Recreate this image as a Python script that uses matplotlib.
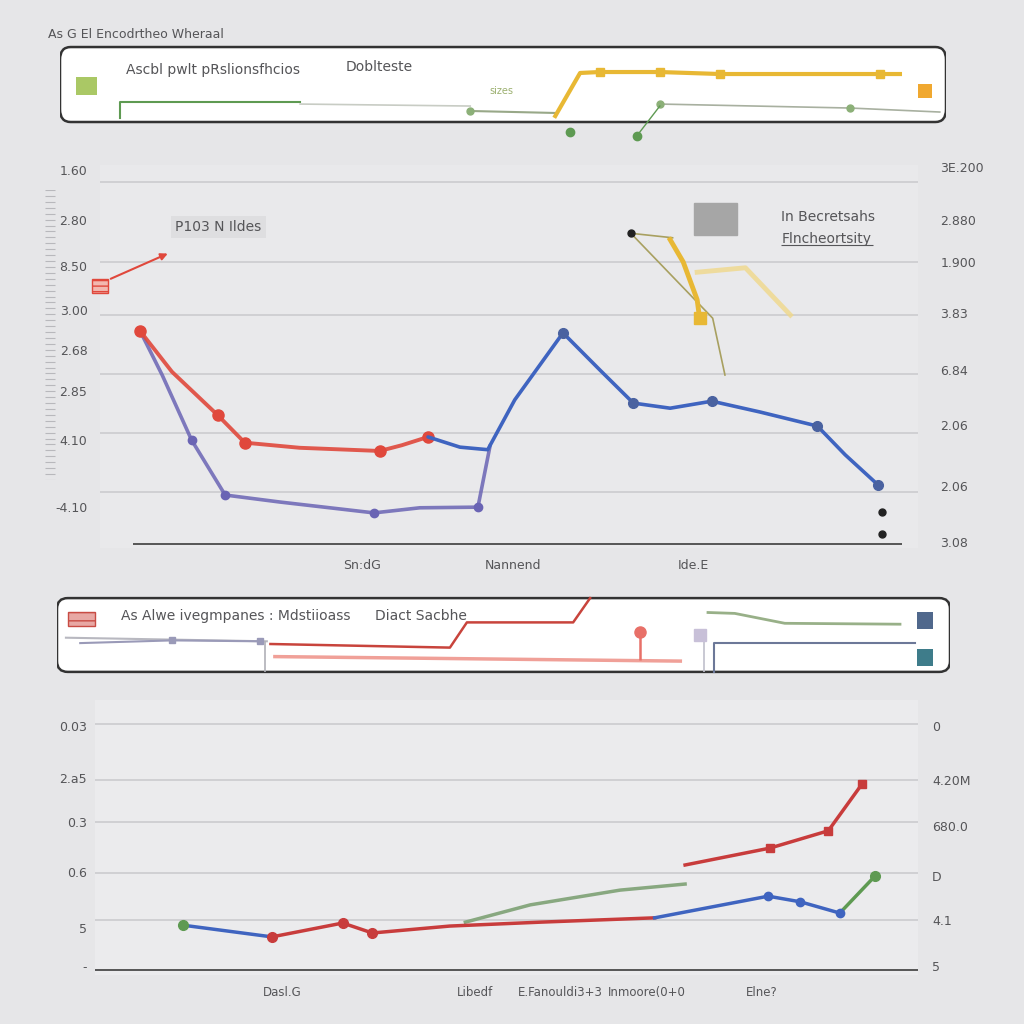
import numpy as np
import matplotlib
matplotlib.use("Agg")
import matplotlib.pyplot as plt
from matplotlib.patches import FancyBboxPatch, Rectangle

# ---- data: main chart (upper) ----
red_x = [4.9, 8.8, 14.4, 17.7, 24.4, 34.2, 36.9, 40.1]
red_y = [3.40, 2.76, 2.08, 1.65, 1.57, 1.52, 1.61, 1.74]
blue_x = [40.1, 44.0, 47.4, 50.7, 56.6, 61.1, 65.2, 69.7, 74.8, 80.7, 87.7, 91.1, 95.1]
blue_y = [1.74, 1.58, 1.54, 2.32, 3.37, 2.79, 2.27, 2.19, 2.30, 2.13, 1.91, 1.46, 0.99]
purple_x = [4.9, 7.6, 11.2, 15.3, 22.0, 33.5, 39.1, 46.2, 47.7]
purple_y = [3.40, 2.71, 1.69, 0.83, 0.72, 0.55, 0.63, 0.64, 1.61]
yellow_x = [69.7, 71.3, 73.0, 73.3]
yellow_y = [4.83, 4.48, 3.89, 3.60]
pale_x = [73.0, 78.9, 84.4]
pale_y = [4.32, 4.39, 3.65]
olive_x = [70.0, 64.9, 74.9, 76.4]
olive_y = [4.86, 4.93, 3.60, 2.71]
dots_x = [64.9, 95.6, 95.6]
dots_y = [4.93, 0.56, 0.22]
grid1 = [5.73, 4.48, 3.65, 2.73, 1.80, 0.88]
left1_pos = [5.92, 5.14, 4.42, 3.73, 3.10, 2.46, 1.69, 0.64]
left1_lab = ["1.60", "2.80", "8.50", "3.00", "2.68", "2.85", "4.10", "-4.10"]
right1_pos = [5.97, 5.14, 4.48, 3.68, 2.79, 1.93, 0.97, 0.09]
right1_lab = ["3E.200", "2.880", "1.900", "3.83", "6.84", "2.06", "2.06", "3.08"]
x1_pos = [32.0, 50.5, 72.5]
x1_lab = ["Sn:dG", "Nannend", "Ide.E"]

# ---- data: top panel ----
p1_green_x = [6.8, 6.8, 27.1]
p1_green_y = [2.57, 4.10, 4.10]
p1_gray_x = [27.1, 46.3]
p1_gray_y = [3.90, 3.71]
p1_olive_x = [46.3, 55.9]
p1_olive_y = [3.24, 3.05]
p1_yellow_x = [55.9, 58.7, 60.9, 67.7, 74.5, 92.6, 94.8]
p1_yellow_y = [2.76, 6.86, 6.95, 6.95, 6.76, 6.76, 6.76]
p1_thin_x = [67.7, 89.2, 99.3]
p1_thin_y = [3.90, 3.52, 3.14]
p1_drop_x = [65.1, 67.7]
p1_drop_y = [0.86, 3.71]
p1_dot_x = [57.6, 65.1]
p1_dot_y = [1.24, 0.86]

# ---- data: second panel ----
p2_gray_x = [1.0, 23.5]
p2_gray_y = [4.7, 4.3]
p2_purple_x = [2.6, 12.9, 22.7]
p2_purple_y = [4.1, 4.4, 4.3]
p2_red_x = [23.9, 44.0, 45.9, 57.8, 59.7]
p2_red_y = [4.0, 3.6, 6.4, 6.4, 9.1]
p2_pink_x = [24.4, 69.8]
p2_pink_y = [2.6, 2.1]
p2_green_x = [72.9, 75.9, 81.5, 94.4]
p2_green_y = [7.5, 7.4, 6.3, 6.2]
p2_steel_x = [73.6, 73.6, 96.1]
p2_steel_y = [0.9, 4.1, 4.1]

# ---- data: bottom chart ----
b_blue1_x = [10.7, 21.5]
b_blue1_y = [1.15, 0.88]
b_red1_x = [21.5, 30.1, 33.7, 43.1, 54.1, 68.0]
b_red1_y = [0.88, 1.20, 0.97, 1.13, 1.22, 1.32]
b_blue2_x = [68.0, 81.8, 85.7, 90.5]
b_blue2_y = [1.32, 1.82, 1.69, 1.43]
b_green1_x = [90.5, 94.8]
b_green1_y = [1.43, 2.29]
b_green2_x = [45.0, 52.9, 63.8, 71.7]
b_green2_y = [1.22, 1.62, 1.96, 2.10]
b_red2_x = [71.7, 82.0, 89.1, 93.2]
b_red2_y = [2.54, 2.93, 3.33, 4.41]
grid2 = [5.80, 4.50, 3.53, 2.36, 1.27]
left2_pos = [5.75, 4.55, 3.53, 2.38, 1.08, 0.21]
left2_lab = ["0.03", "2.a5", "0.3", "0.6", "5", "-"]
right2_pos = [5.75, 4.50, 3.44, 2.29, 1.27, 0.21]
right2_lab = ["0", "4.20M", "680.0", "D", "4.1", "5"]
x2_pos = [22.8, 46.2, 56.5, 67.0, 81.0]
x2_lab = ["Dasl.G", "Libedf", "E.Fanouldi3+3", "Inmoore(0+0", "Elne?"]

BG = "#e6e6e8"
TXT = "#555558"
RED = "#e0483c"
BLUE = "#3f64c0"
PURPLE = "#6a64b4"
YELLOW = "#e8b834"
GREEN = "#5e9a52"

fig = plt.figure(figsize=(10.24, 10.24), dpi=100, facecolor=BG)


def px_axes(x0, y0, x1, y1):
    # axes placed by pixel box (top-left origin)
    return fig.add_axes([x0 / 1024, 1 - y1 / 1024, (x1 - x0) / 1024, (y1 - y0) / 1024])


# ================= main chart =================
ax = px_axes(100, 165, 918, 548)
ax.set_facecolor("#e9e9eb")
ax.set_xlim(0, 100)
ax.set_ylim(0, 6)
for s in ax.spines.values():
    s.set_visible(False)
ax.hlines(grid1, 0, 100, color="#c9c9cc", lw=1.1)
ax.hlines([0.06], 4, 98, color="#555", lw=1.4)
ax.set_yticks(left1_pos, left1_lab, fontsize=9, color=TXT)
ax.tick_params(axis="y", length=0, pad=9)
ax.set_xticks(x1_pos, x1_lab, fontsize=9, color=TXT)
ax.tick_params(axis="x", length=0, pad=8)
axr = ax.twinx()
axr.set_ylim(0, 6)
axr.set_yticks(right1_pos, right1_lab, fontsize=9, color=TXT)
axr.tick_params(axis="y", length=0, pad=16)
for s in axr.spines.values():
    s.set_visible(False)

ax.plot(purple_x, purple_y, color=PURPLE, lw=2.6, alpha=0.85, solid_capstyle="round")
ax.plot([purple_x[i] for i in (2, 3, 5, 7)], [purple_y[i] for i in (2, 3, 5, 7)],
        "o", color=PURPLE, ms=6)
ax.plot(red_x, red_y, color=RED, lw=2.8, alpha=0.9, solid_capstyle="round")
ax.plot([red_x[i] for i in (0, 2, 3, 5, 7)], [red_y[i] for i in (0, 2, 3, 5, 7)],
        "o", color=RED, ms=8)
ax.plot(blue_x, blue_y, color=BLUE, lw=2.6, solid_capstyle="round")
ax.plot([blue_x[i] for i in (4, 6, 8, 10, 12)], [blue_y[i] for i in (4, 6, 8, 10, 12)],
        "o", color="#4a62a0", ms=7)
ax.plot(olive_x, olive_y, color="#a8a060", lw=1.2)
ax.plot(pale_x, pale_y, color="#f0d88a", lw=3.5, alpha=0.8)
ax.plot(yellow_x, yellow_y, color=YELLOW, lw=3.5)
ax.plot(yellow_x[-1:], yellow_y[-1:], "s", color=YELLOW, ms=8)
ax.plot(dots_x, dots_y, "o", color="#222", ms=5)

# annotations in main chart
ax.add_patch(Rectangle((72.6, 4.9), 5.3, 0.5, color="#a6a6a6"))
ax.text(83.3, 5.12, "In Becretsahs", fontsize=10, color=TXT)
ax.text(83.3, 4.78, "Flncheortsity", fontsize=10, color=TXT)
ax.hlines([4.75], 83.3, 94.5, color=TXT, lw=0.8)
ax.text(9.2, 4.97, "P103 N Ildes", fontsize=10, color=TXT,
        bbox=dict(boxstyle="square,pad=0.3", fc="#dedee0", ec="none"))
ax.add_patch(Rectangle((-0.95, 4.0), 1.9, 0.22, fc="#f2b8b0", ec=RED, lw=1, hatch="---",
                       clip_on=False))
ax.annotate("", xy=(8.6, 4.63), xytext=(1.0, 4.2),
            arrowprops=dict(arrowstyle="-|>", color=RED, lw=1.5, mutation_scale=10))

# ruler on the far left
axk = px_axes(44, 190, 56, 480)
axk.set_axis_off()
axk.set_ylim(0, 1)
axk.set_xlim(0, 1)
axk.hlines(np.linspace(0, 1, 50), 0.1, 0.9, color="#b8b8bc", lw=0.8)

# ================= top panel =================
a1 = px_axes(60, 40, 946, 145)
a1.set_axis_off()
a1.set_xlim(0, 100)
a1.set_ylim(0, 10)
a1.add_patch(FancyBboxPatch((0.0, 2.19), 100, 7.14, boxstyle="round,pad=0,rounding_size=1.2",
                            fc="white", ec="#333", lw=1.8, mutation_aspect=1))
a1.add_patch(Rectangle((1.8, 4.8), 2.4, 1.7, fc="#9bbf4a", ec="none", alpha=0.85))
a1.plot(p1_green_x, p1_green_y, color=GREEN, lw=1.5)
a1.plot(p1_gray_x, p1_gray_y, color="#c8ccc4", lw=1.2)
a1.plot(p1_olive_x, p1_olive_y, color="#98a888", lw=1.5)
a1.plot(p1_olive_x[:1], p1_olive_y[:1], "o", color="#8cb078", ms=5)
a1.plot(p1_yellow_x, p1_yellow_y, color=YELLOW, lw=3)
a1.plot(p1_yellow_x[2:6], p1_yellow_y[2:6], "s", color=YELLOW, ms=6)
a1.plot(p1_thin_x, p1_thin_y, color="#a8b0a0", lw=1.2)
a1.plot(p1_thin_x[:2], p1_thin_y[:2], "o", color="#8cb078", ms=5)
a1.plot(p1_drop_x, p1_drop_y, color=GREEN, lw=1)
a1.plot(p1_dot_x, p1_dot_y, "o", color=GREEN, ms=6)
a1.add_patch(Rectangle((96.8, 4.5), 1.6, 1.3, fc="#f0a830", ec="none"))
a1.text(7.5, 7.1, "Ascbl pwlt pRslionsfhcios", fontsize=10, color=TXT, va="center")
a1.text(32.2, 7.4, "Dobltestе", fontsize=10, color=TXT, va="center")
a1.text(48.5, 5.1, "sizes", fontsize=7, color="#9cb070", va="center")
fig.text(48 / 1024, 1 - 34 / 1024, "As G El Encodrtheo Wheraal", fontsize=9, color=TXT, va="center")

# ================= second panel =================
a2 = px_axes(57, 590, 950, 680)
a2.set_axis_off()
a2.set_xlim(0, 100)
a2.set_ylim(0, 10)
a2.add_patch(FancyBboxPatch((0.0, 0.9), 100, 8.2, boxstyle="round,pad=0,rounding_size=1.2",
                            fc="white", ec="#333", lw=1.8, mutation_aspect=1))
a2.add_patch(Rectangle((1.2, 6.0), 3.0, 1.6, fc="#e8a8a4", ec="#c84c44", lw=1, hatch="--"))
a2.text(7.2, 7.1, "As Alwe ivegmpanes : Mdstiioass", fontsize=10, color=TXT, va="center")
a2.text(35.6, 7.1, "Diact Sacbhe", fontsize=10, color=TXT, va="center")
a2.plot(p2_gray_x, p2_gray_y, color="#b8b8c0", lw=1.5)
a2.plot(p2_purple_x, p2_purple_y, color="#9a9ab8", lw=1.5)
a2.plot(p2_purple_x[1:], p2_purple_y[1:], "s", color="#9a9ab8", ms=5)
a2.vlines([23.3], 0.9, 4.3, color="#b0b0b8", lw=1.2)
a2.plot(p2_red_x, p2_red_y, color="#c8443c", lw=1.8)
a2.plot(p2_pink_x, p2_pink_y, color="#f0a098", lw=2.5)
a2.vlines([65.3], 2.2, 5.1, color="#e87068", lw=1.8)
a2.plot([65.3], [5.3], "o", color="#e87068", ms=8)
a2.vlines([72.4], 0.9, 4.4, color="#c0c0cc", lw=1.2)
a2.plot([72.0], [5.0], "s", color="#c8c0d8", ms=8)
a2.plot(p2_green_x, p2_green_y, color="#98b088", lw=2)
a2.plot(p2_steel_x, p2_steel_y, color="#6c7898", lw=1.5)
a2.add_patch(Rectangle((96.3, 5.7), 1.8, 1.9, fc="#50688c", ec="none"))
a2.add_patch(Rectangle((96.3, 1.6), 1.8, 1.9, fc="#3e7c8a", ec="none"))

# ================= bottom chart =================
b = px_axes(95, 700, 918, 975)
b.set_facecolor("#ebebed")
b.set_xlim(0, 100)
b.set_ylim(0, 6.35)
for s in b.spines.values():
    s.set_visible(False)
b.hlines(grid2, 0, 100, color="#c9c9cc", lw=1.1)
b.hlines([0.12], 0, 100, color="#555", lw=1.4)
b.set_yticks(left2_pos, left2_lab, fontsize=9, color=TXT)
b.tick_params(axis="y", length=0, pad=6)
b.set_xticks(x2_pos, x2_lab, fontsize=8.5, color=TXT)
b.tick_params(axis="x", length=0, pad=8)
br = b.twinx()
br.set_ylim(0, 6.35)
br.set_yticks(right2_pos, right2_lab, fontsize=9, color=TXT)
br.tick_params(axis="y", length=0, pad=10)
for s in br.spines.values():
    s.set_visible(False)

b.plot(b_green2_x, b_green2_y, color="#88a880", lw=2.5)
b.plot(b_blue1_x, b_blue1_y, color=BLUE, lw=2.5)
b.plot(b_red1_x, b_red1_y, color="#c83c3c", lw=2.5)
b.plot(b_blue2_x, b_blue2_y, color=BLUE, lw=2.5)
b.plot(b_green1_x, b_green1_y, color=GREEN, lw=2.5)
b.plot(b_red2_x, b_red2_y, color="#c83c3c", lw=2.5)
b.plot(b_blue1_x[:1], b_blue1_y[:1], "o", color=GREEN, ms=7)
b.plot(b_red1_x[:3], b_red1_y[:3], "o", color="#c83c3c", ms=7)
b.plot(b_blue2_x[1:], b_blue2_y[1:], "o", color=BLUE, ms=6)
b.plot(b_green1_x[1:], b_green1_y[1:], "o", color=GREEN, ms=7)
b.plot(b_red2_x[1:], b_red2_y[1:], "s", color="#c83c3c", ms=6)

fig.savefig("out.png", dpi=100, facecolor=BG)
